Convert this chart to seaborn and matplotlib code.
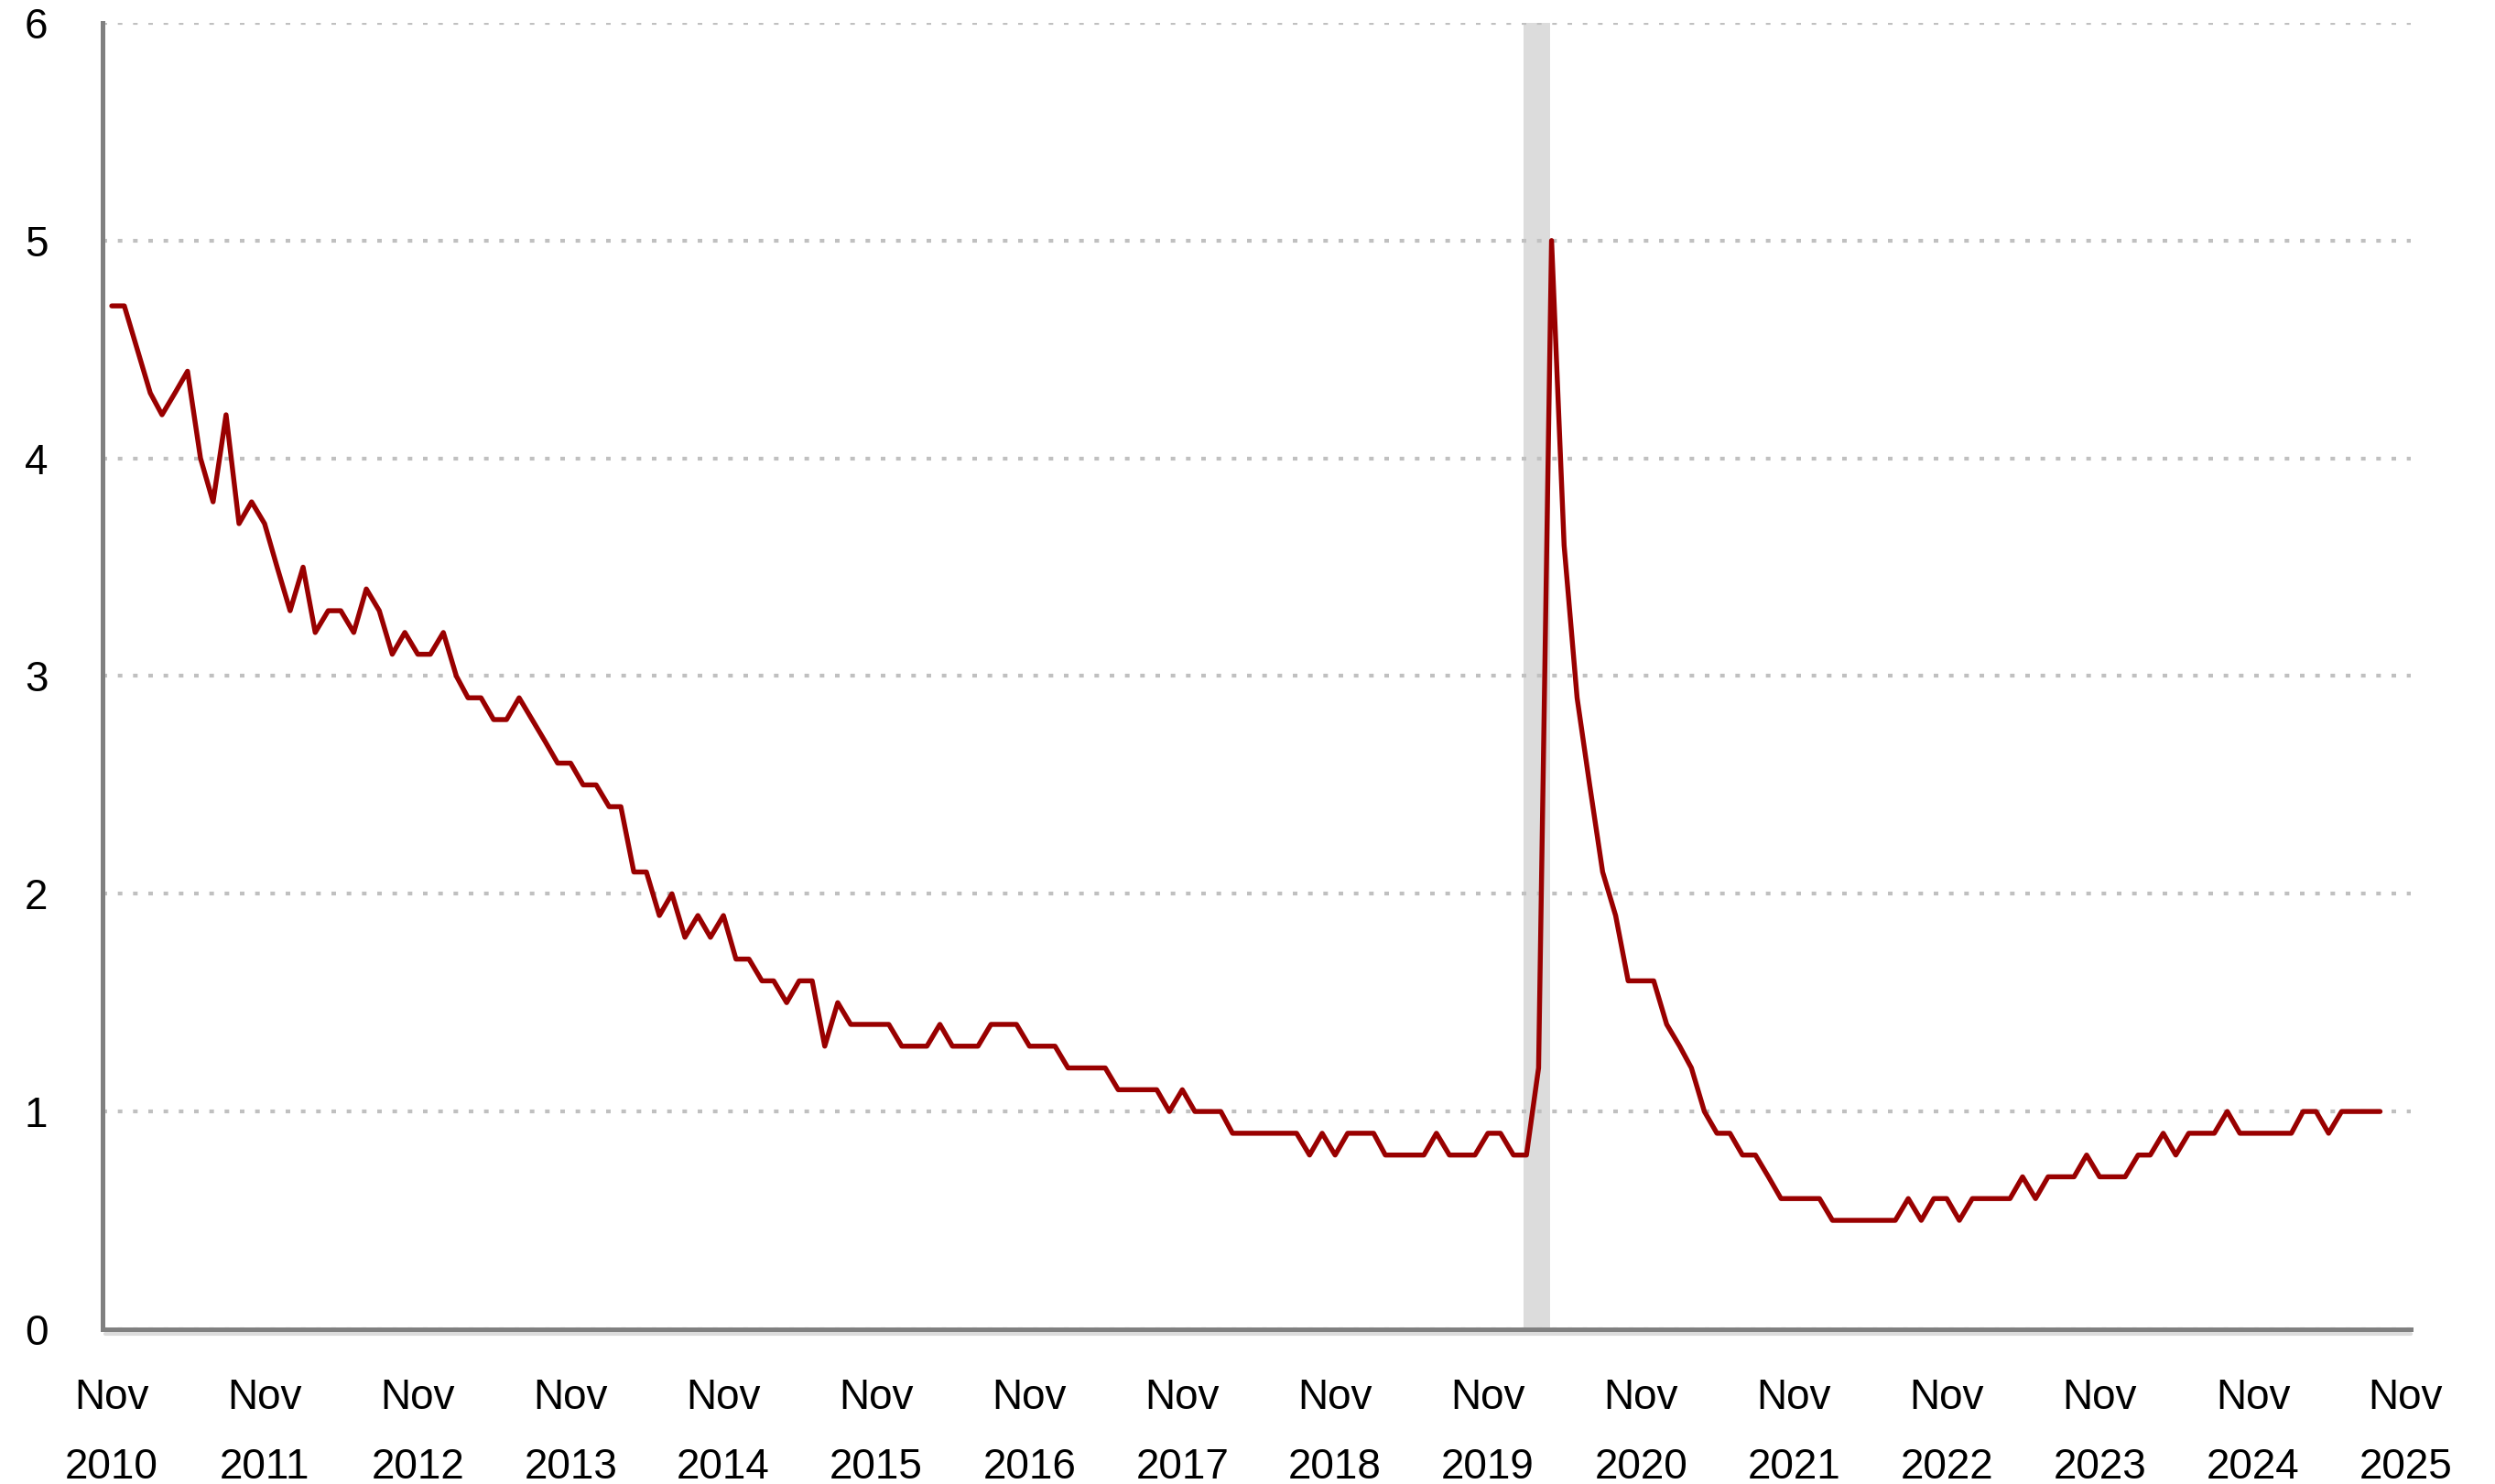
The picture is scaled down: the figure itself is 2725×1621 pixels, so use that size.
import pandas as pd
import matplotlib.pyplot as plt
import matplotlib.transforms as mtransforms
import seaborn as sns

# monthly values, Nov 2010 .. Sep 2025
rate = [
    4.7, 4.7, 4.5, 4.3, 4.2, 4.3, 4.4, 4.0, 3.8, 4.2, 3.7, 3.8,
    3.7, 3.5, 3.3, 3.5, 3.2, 3.3, 3.3, 3.2, 3.4, 3.3, 3.1, 3.2,
    3.1, 3.1, 3.2, 3.0, 2.9, 2.9, 2.8, 2.8, 2.9, 2.8, 2.7, 2.6,
    2.6, 2.5, 2.5, 2.4, 2.4, 2.1, 2.1, 1.9, 2.0, 1.8, 1.9, 1.8,
    1.9, 1.7, 1.7, 1.6, 1.6, 1.5, 1.6, 1.6, 1.3, 1.5, 1.4, 1.4,
    1.4, 1.4, 1.3, 1.3, 1.3, 1.4, 1.3, 1.3, 1.3, 1.4, 1.4, 1.4,
    1.3, 1.3, 1.3, 1.2, 1.2, 1.2, 1.2, 1.1, 1.1, 1.1, 1.1, 1.0,
    1.1, 1.0, 1.0, 1.0, 0.9, 0.9, 0.9, 0.9, 0.9, 0.9, 0.8, 0.9,
    0.8, 0.9, 0.9, 0.9, 0.8, 0.8, 0.8, 0.8, 0.9, 0.8, 0.8, 0.8,
    0.9, 0.9, 0.8, 0.8, 1.2, 5.0, 3.6, 2.9, 2.5, 2.1, 1.9, 1.6,
    1.6, 1.6, 1.4, 1.3, 1.2, 1.0, 0.9, 0.9, 0.8, 0.8, 0.7, 0.6,
    0.6, 0.6, 0.6, 0.5, 0.5, 0.5, 0.5, 0.5, 0.5, 0.6, 0.5, 0.6,
    0.6, 0.5, 0.6, 0.6, 0.6, 0.6, 0.7, 0.6, 0.7, 0.7, 0.7, 0.8,
    0.7, 0.7, 0.7, 0.8, 0.8, 0.9, 0.8, 0.9, 0.9, 0.9, 1.0, 0.9,
    0.9, 0.9, 0.9, 0.9, 1.0, 1.0, 0.9, 1.0, 1.0, 1.0, 1.0,
]
start_month = "2010-11-01"
tick_years = list(range(2010, 2026))
y_ticks = [0, 1, 2, 3, 4, 5, 6]
recession = ("2020-01-25", "2020-03-28")

df = pd.DataFrame({
    "date": pd.date_range(start_month, periods=len(rate), freq="MS"),
    "rate": rate,
})

sns.set_style("white")
plt.rcParams['font.family'] = ['Liberation Sans', 'DejaVu Sans']

fig = plt.figure(figsize=(27.25, 16.21), dpi=100)
ax = fig.add_axes([0.0411, 0.1043, 0.9251, 0.8803])

ax.axvspan(pd.Timestamp(recession[0]), pd.Timestamp(recession[1]),
           color='#dcdcdc', lw=0, zorder=0.3)
sns.lineplot(data=df, x="date", y="rate", ax=ax, color='#990000',
             linewidth=3.9, zorder=3)

ax.set_ylim(0, 6)
ax.set_xlim(pd.Timestamp("2010-10-10"), pd.Timestamp("2025-11-13"))
ax.set_xlabel("")
ax.set_ylabel("")

ax.set_axisbelow(True)
ax.yaxis.grid(True, color='#c0c0c0', linewidth=3.0, linestyle=(0, (1.2, 2.8)))
ax.xaxis.grid(False)

ax.set_yticks(y_ticks)
ax.set_yticklabels([str(v) for v in y_ticks])
xt = [pd.Timestamp(f"{y}-11-01") for y in tick_years]
ax.set_xticks(xt)
ax.set_xticklabels([f"Nov\n{y}" for y in tick_years], linespacing=1.95)

ax.tick_params(axis='y', length=28, width=3.6, color='#c8d0e8', pad=15,
               labelsize=33, labelcolor='black')
ax.tick_params(axis='x', length=0, pad=38, labelsize=33, labelcolor='black')

for side in ['top', 'right']:
    ax.spines[side].set_visible(False)
for side in ['left', 'bottom']:
    ax.spines[side].set_color('#808080')
    ax.spines[side].set_linewidth(3.6)

# light shadow under the x axis line
shadow = mtransforms.offset_copy(ax.transAxes, fig=fig, x=0, y=-5, units='dots')
ax.plot([0.001, 1], [0, 0], transform=shadow, color='#dcdcdc', lw=3,
        clip_on=False, zorder=0)

fig.savefig("out.png", dpi=100)
plt.close(fig)
